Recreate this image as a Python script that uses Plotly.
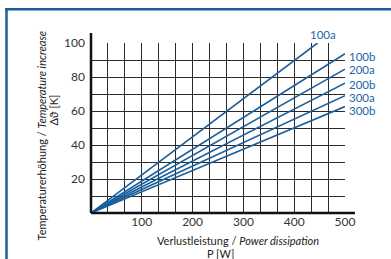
import plotly.graph_objects as go

# Data: straight lines from origin, end points
series_names = ["100a", "100b", "200a", "200b", "300a", "300b"]
end_power = [446, 500, 500, 500, 500, 500]      # P [W]
end_temp = [100, 93.7, 84.6, 76.4, 69.0, 62.6]   # Δϑ [K]

x_ticks = [100, 200, 300, 400, 500]
y_ticks = [20, 40, 60, 80, 100]

BLUE = "#1b5e9c"
LBLUE = "#2266a6"
FONT = "Lato, 'DejaVu Sans', sans-serif"
W, H = 391, 259
ML, MR, MT, MB = 91, 46, 43, 46

fig = go.Figure()
for name, px, ty in zip(series_names, end_power, end_temp):
    fig.add_trace(go.Scatter(x=[0, px], y=[0, ty], mode="lines", name=name,
                             line=dict(color=BLUE, width=1.6), showlegend=False,
                             cliponaxis=False))

# line labels
label_yshift = [0, -2.3, -0.8, -1.5, -2, -4.4]
for i, (name, px, ty) in enumerate(zip(series_names, end_power, end_temp)):
    if px < 500:
        fig.add_annotation(x=px, y=ty, text=name, showarrow=False, xanchor="center",
                           yanchor="bottom", xshift=5, yshift=1, borderpad=0,
                           font=dict(family=FONT, size=11.5, color=LBLUE))
    else:
        fig.add_annotation(x=px, y=ty, text=name, showarrow=False, xanchor="left",
                           yanchor="middle", xshift=3, yshift=label_yshift[i], borderpad=0,
                           font=dict(family=FONT, size=11.5, color=LBLUE))

pw = W - ML - MR
ph = H - MT - MB
def px2x(p):
    return (p - ML) / pw
def py2y(p):
    return (H - MB - p) / ph

grid = dict(showgrid=True, gridcolor="#2a2a2a", gridwidth=1)
fig.update_xaxes(range=[0, 500], tickvals=x_ticks, ticks="", showline=False, zeroline=False,
                 tickfont=dict(family=FONT, size=12, color="#333333"),
                 minor=dict(dtick=100/3, tick0=0, showgrid=True, gridcolor="#2a2a2a", gridwidth=1),
                 **grid)
fig.update_yaxes(range=[0, 100], tickvals=y_ticks, ticks="", showline=False, zeroline=False,
                 ticklabelstandoff=5,
                 tickfont=dict(family=FONT, size=12, color="#333333"),
                 minor=dict(dtick=10, tick0=0, showgrid=True, gridcolor="#2a2a2a", gridwidth=1),
                 **grid)

# bold axis lines (extended beyond the grid)
fig.add_shape(type="line", xref="paper", yref="paper", x0=0, x1=px2x(355), y0=0, y1=0,
              line=dict(color="#111111", width=2.5))
fig.add_shape(type="line", xref="paper", yref="paper", x0=0, x1=0, y0=0, y1=py2y(33),
              line=dict(color="#111111", width=2.5))

# outer blue frame (top and left)
fig.add_shape(type="line", xref="paper", yref="paper", x0=px2x(5), x1=px2x(W + 5),
              y0=py2y(9.3), y1=py2y(9.3), line=dict(color=BLUE, width=2.5))
fig.add_shape(type="line", xref="paper", yref="paper", x0=px2x(6.5), x1=px2x(6.5),
              y0=py2y(8), y1=py2y(H + 5), line=dict(color=BLUE, width=2.5))

# axis titles
fig.add_annotation(xref="paper", yref="paper", x=px2x(40.5), y=py2y(136),
                   text="Temperaturerhöhung / <i>Temperature increase</i>", textangle=-90,
                   showarrow=False, xanchor="center", yanchor="middle", borderpad=0,
                   font=dict(family=FONT, size=11, color="#222222"))
fig.add_annotation(xref="paper", yref="paper", x=px2x(52.5), y=py2y(110),
                   text="Δϑ [K]", textangle=-90,
                   showarrow=False, xanchor="center", yanchor="middle", borderpad=0,
                   font=dict(family=FONT, size=11, color="#222222"))
fig.add_annotation(xref="paper", yref="paper", x=px2x(238), y=py2y(240.5),
                   text="Verlustleistung / <i>Power dissipation</i>",
                   showarrow=False, xanchor="center", yanchor="middle", borderpad=0,
                   font=dict(family=FONT, size=11, color="#222222"))
fig.add_annotation(xref="paper", yref="paper", x=px2x(220), y=py2y(253.5),
                   text="P [W]",
                   showarrow=False, xanchor="center", yanchor="middle", borderpad=0,
                   font=dict(family=FONT, size=11, color="#222222"))

fig.update_layout(width=W, height=H, margin=dict(l=ML, r=MR, t=MT, b=MB),
                  paper_bgcolor="white", plot_bgcolor="white", showlegend=False)
fig.write_html("out.html", config={"displayModeBar": False},
               post_script="document.body.style.margin='0';document.body.style.overflow='hidden';")
